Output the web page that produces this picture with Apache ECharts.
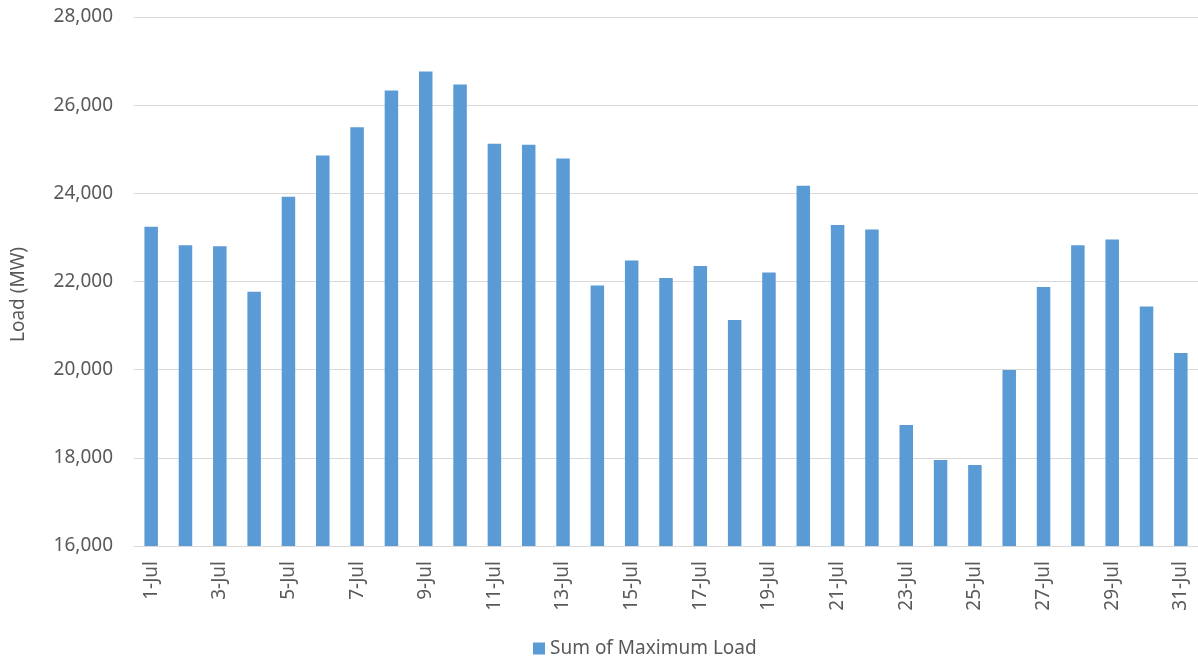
<!DOCTYPE html>
<html>
<head>
<meta charset="utf-8">
<script src="https://cdn.jsdelivr.net/npm/echarts@6/dist/echarts.min.js"></script>
<style>
html,body{margin:0;padding:0;background:#fff;}
#chart{width:1198px;height:662px;}
</style>
</head>
<body>
<div id="chart"></div>
<script>
const categories = ["1-Jul","2-Jul","3-Jul","4-Jul","5-Jul","6-Jul","7-Jul","8-Jul","9-Jul","10-Jul","11-Jul","12-Jul","13-Jul","14-Jul","15-Jul","16-Jul","17-Jul","18-Jul","19-Jul","20-Jul","21-Jul","22-Jul","23-Jul","24-Jul","25-Jul","26-Jul","27-Jul","28-Jul","29-Jul","30-Jul","31-Jul"];
const maxLoad = [23240,22825,22800,21766,23921,24859,25500,26333,26764,26469,25123,25100,24791,21911,22478,22077,22349,21125,22206,24170,23279,23181,18744,17950,17837,19991,21873,22825,22954,21435,20376];
const seriesName = "Sum of Maximum Load";
const yAxisName = "Load (MW)";

const FONT = "Noto Sans";
const TXT = "#595959";
const chart = echarts.init(document.getElementById('chart'));
chart.setOption({
  animation: false,
  textStyle: {fontFamily: FONT},
  grid: {left: 134, top: 17, width: 1069, bottom: 116, containLabel: false},
  legend: {
    data: [seriesName], left: 528, top: 634, icon: 'rect', itemWidth: 12, itemHeight: 12, itemGap: 6,
    textStyle: {color: TXT, fontSize: 19, fontFamily: FONT}
  },
  xAxis: {
    type: 'category', data: categories,
    axisLine: {lineStyle: {color: '#D9D9D9', width: 1}},
    axisTick: {show: false},
    axisLabel: {rotate: 90, interval: 1, color: TXT, fontSize: 19, margin: 15, fontFamily: FONT}
  },
  yAxis: {
    type: 'value', min: 16000, max: 28000, interval: 2000,
    name: yAxisName, nameLocation: 'middle', nameGap: 106, nameRotate: 90,
    nameTextStyle: {color: TXT, fontSize: 19, fontFamily: FONT, padding: [0, 26, 0, 0]},
    axisLine: {show: false}, axisTick: {show: false},
    splitLine: {lineStyle: {color: '#D9D9D9', width: 1}},
    axisLabel: {color: TXT, fontSize: 19, margin: 21, fontFamily: FONT,
      formatter: v => v.toLocaleString('en-US')}
  },
  series: [{
    name: seriesName, type: 'bar', data: maxLoad, barWidth: 13.5,
    itemStyle: {color: '#5B9BD5'}
  }]
});
</script>
</body>
</html>
